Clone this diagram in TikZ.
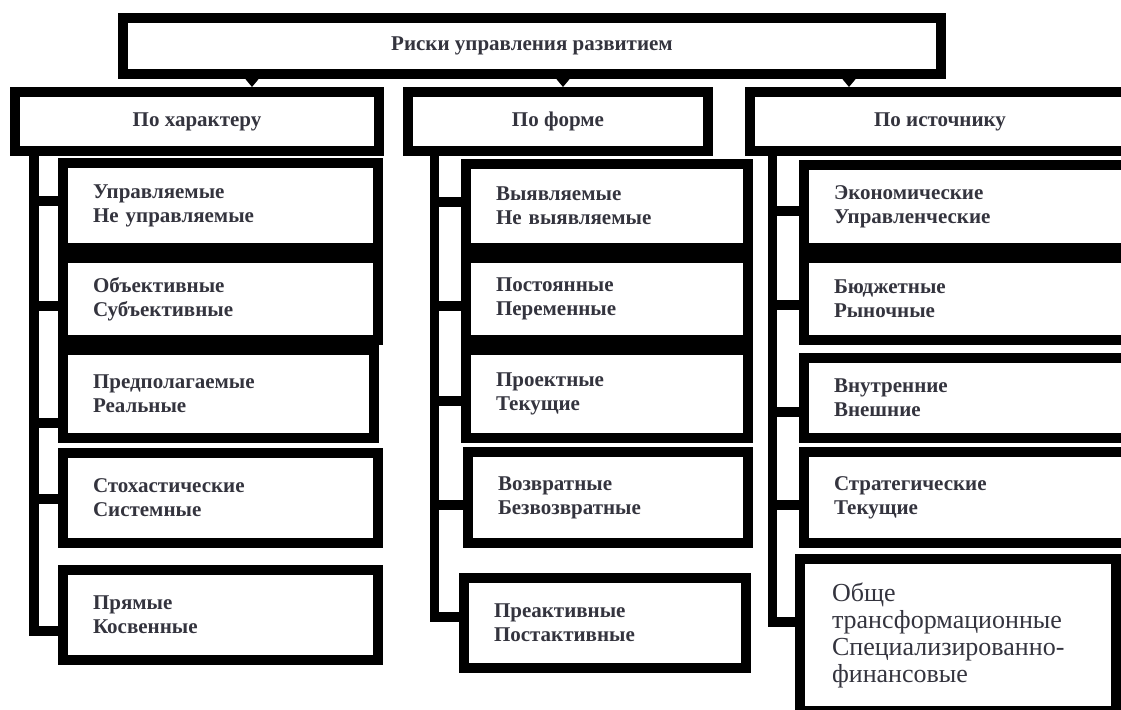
\documentclass[tikz,border=0pt]{standalone}
\usepackage{fontspec}
\setmainfont{Liberation Serif}
\usepackage{tikz}
\usetikzlibrary{arrows.meta}
\usetikzlibrary{calc}
\definecolor{inkgray}{RGB}{52,52,62}

\begin{document}
\begin{tikzpicture}[x=1pt,y=-1pt,
  >={Triangle[width=13pt,length=8pt]},
  box/.style={draw=black,line width=10pt,outer sep=5pt,anchor=north west,inner ysep=0pt,
    text=inkgray,font=\bfseries\fontsize{21}{24}\selectfont},
  head/.style={box,align=center,inner xsep=0pt},
  item/.style={box,align=left,inner xsep=30pt,text width=#1},
  branch/.style={line width=9.5pt,draw=black}]
  \tikzstyle{big}=[font=\fontsize{26}{27}\selectfont,inner xsep=32pt]

  \useasboundingbox (0,0) rectangle (1121,709);

  \node [head,minimum width=818pt,minimum height=56pt] (top) at (118,13) {Риски управления развитием};

  \node [head,minimum width=364pt,minimum height=59pt] (lh) at (10,87) {По характеру};
  \node [head,minimum width=300pt,minimum height=59pt] (mh) at (403,87) {По форме};
  \node [head,minimum width=380pt,minimum height=59pt] (rh) at (745,87) {По источнику};

  \coordinate (a1) at (252,0);
  \coordinate (a2) at (563,0);
  \coordinate (a3) at (849,0);
  \foreach \a/\h in {a1/lh,a2/mh,a3/rh}
    \draw[->,line width=1pt] (top.south -| \a) -- (\h.north -| \a);

  % po harakteru
  \node [item=255pt,minimum height=85pt] (l1) at (58,158) {Управляемые\\Не управляемые};
  \node [item=255pt,minimum height=82pt] (l2) at (58,253) {Объективные\\Субъективные};
  \node [item=251pt,minimum height=88pt] (l3) at (58,345) {Предполагаемые\\Реальные};
  \node [item=255pt,minimum height=90pt] (l4) at (58,448) {Стохастические\\Системные};
  \node [item=255pt,minimum height=90pt] (l5) at (58,565) {Прямые\\Косвенные};

  % po forme
  \node [item=222pt,minimum height=84pt] (m1) at (461,159) {Выявляемые\\Не выявляемые};
  \node [item=222pt,minimum height=82pt] (m2) at (461,253) {Постоянные\\Переменные};
  \node [item=222pt,minimum height=88pt] (m3) at (461,345) {Проектные\\Текущие};
  \node [item=220pt,minimum height=91pt] (m4) at (463,447) {Возвратные\\Безвозвратные};
  \node [item=222pt,minimum height=90pt] (m5) at (459,573) {Преактивные\\Постактивные};

  % po istochniku
  \node [item=266pt,minimum height=83pt] (r1) at (799,160) {Экономические\\Управленческие};
  \node [item=266pt,minimum height=82pt] (r2) at (799,253) {Бюджетные\\Рыночные};
  \node [item=266pt,minimum height=80pt] (r3) at (799,353) {Внутренние\\Внешние};
  \node [item=266pt,minimum height=91pt] (r4) at (799,447) {Стратегические\\Текущие};
  \node [item=252pt,big,minimum height=152pt] (r5) at (795,554) {Обще\\трансформационные\\Специализированно-\\финансовые};

  \coordinate (lt) at (34,152);
  \coordinate (mt) at (434.5,152);
  \coordinate (rt) at (772.5,152);

  \draw[branch] (lt) |- ($(l5.west)+(0,16)$);
  \draw[branch] (mt) |- ($(m5.west)+(0,-6)$);
  \draw[branch] (rt) |- ($(r5.west)+(0,-13)$);

  \foreach \b/\d in {l1/-4.5,l2/7,l3/29,l4/1}
    \draw[branch] ($(\b.west)+(0,\d)$) coordinate (p) -- (p -| lt);
  \foreach \b/\d in {m1/-4,m2/7,m3/7,m4/7.5}
    \draw[branch] ($(\b.west)+(0,\d)$) coordinate (p) -- (p -| mt);
  \foreach \b/\d in {r1/4.5,r2/6,r3/14,r4/7.5}
    \draw[branch] ($(\b.west)+(0,\d)$) coordinate (p) -- (p -| rt);

\end{tikzpicture}
\end{document}
